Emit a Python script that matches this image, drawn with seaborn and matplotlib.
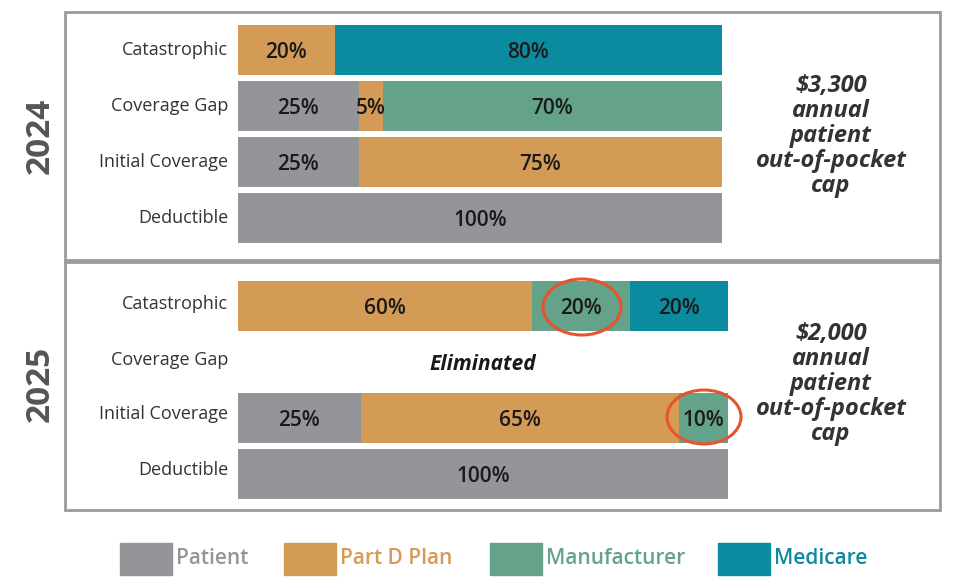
import matplotlib
matplotlib.use("Agg")
import matplotlib.pyplot as plt
import seaborn as sns
import pandas as pd
import numpy as np
from matplotlib.patches import Rectangle, Ellipse

sns.set_theme(style="white")
plt.rcParams['font.family'] = ['Open Sans', 'DejaVu Sans']

phases = ['Catastrophic', 'Coverage Gap', 'Initial Coverage', 'Deductible']
payers = ['Patient', 'Part D Plan', 'Manufacturer', 'Medicare']
colors = {'Patient': '#939598', 'Part D Plan': '#D49B57',
          'Manufacturer': '#64A28A', 'Medicare': '#0B8BA0'}

# share of cost per phase, in payer order
shares_2024 = {
    'Catastrophic':     [0, 20, 0, 80],
    'Coverage Gap':     [25, 5, 70, 0],
    'Initial Coverage': [25, 75, 0, 0],
    'Deductible':       [100, 0, 0, 0],
}
shares_2025 = {
    'Catastrophic':     [0, 60, 20, 20],
    'Coverage Gap':     [0, 0, 0, 0],
    'Initial Coverage': [25, 65, 10, 0],
    'Deductible':       [100, 0, 0, 0],
}
caps = ['$3,300\nannual\npatient\nout-of-pocket\ncap',
        '$2,000\nannual\npatient\nout-of-pocket\ncap']
years = ['2024', '2025']

W, H = 980, 586
fig = plt.figure(figsize=(W / 100, H / 100), dpi=100)


def fx(px):
    return px / W


def fy(py):
    return 1 - py / H


def draw_panel(shares, left, right, top, bottom, small_labels=()):
    ax = fig.add_axes([fx(left), fy(bottom), fx(right - left), (bottom - top) / H])
    df = pd.DataFrame(shares, index=payers).T.loc[phases]
    cum = df.cumsum(axis=1)
    # stacked bars: draw cumulative totals back to front
    for payer in reversed(payers):
        d = pd.DataFrame({'phase': phases, 'val': cum[payer].values})
        sns.barplot(data=d, y='phase', x='val', color=colors[payer], width=50 / 56,
                    orient='h', ax=ax, saturation=1, edgecolor='none')
    for i, ph in enumerate(phases):
        start = 0
        for payer in payers:
            v = df.loc[ph, payer]
            if v > 0:
                ax.text(start + v / 2, i + 0.05, f"{v}%", ha='center', va='center',
                        fontsize=15, color='#1a1a1a', fontweight='semibold')
            start += v
    ax.set_xlim(0, 100)
    ax.set_ylim(3.5, -0.5)
    ax.axis('off')
    return ax


ax1 = draw_panel(shares_2024, 238, 722, 22, 246)
ax2 = draw_panel(shares_2025, 238, 728, 278, 502)
ax2.text(50, 1.05, 'Eliminated', ha='center', va='center', fontsize=15,
         fontweight='bold', fontstyle='italic', color='#1a1a1a')

# panel boxes
for top, bot in [(12, 260), (262, 510)]:
    fig.patches.append(Rectangle((fx(65), fy(bot)), fx(940 - 65), (bot - top) / H,
                                 transform=fig.transFigure, fill=False,
                                 edgecolor='#9a9a9a', lw=2))

# phase labels, year labels, cap text
for ys, yr, cap, yc in [([50, 106, 162, 218], years[0], caps[0], 136),
                        ([304, 360, 414, 470], years[1], caps[1], 384)]:
    for ph, y in zip(phases, ys):
        fig.text(fx(228), fy(y), ph, ha='right', va='center', fontsize=13, color='#333333')
    fig.text(fx(40), fy(yc), yr, rotation=90, ha='center', va='center',
             fontsize=24, fontweight='bold', color='#555555')
    fig.text(fx(831), fy(yc), cap, ha='center', va='center', fontsize=17,
             fontweight='bold', fontstyle='italic', color='#333333', linespacing=1.05)

# highlight circles
for cx, cy, w, h in [(582, 307, 78, 56), (704, 417, 74, 54)]:
    fig.patches.append(Ellipse((fx(cx), fy(cy)), w / W, h / H, transform=fig.transFigure,
                               fill=False, edgecolor='#E8532B', lw=2.2))

# legend
for x0, payer in zip([120, 284, 490, 718], payers):
    fig.patches.append(Rectangle((fx(x0), fy(575)), fx(52), 32 / H,
                                 transform=fig.transFigure, color=colors[payer]))
    fig.text(fx(x0 + 56), fy(559), payer, ha='left', va='center', fontsize=15,
             fontweight='semibold', color=colors[payer])

fig.savefig('out.png', dpi=100)
